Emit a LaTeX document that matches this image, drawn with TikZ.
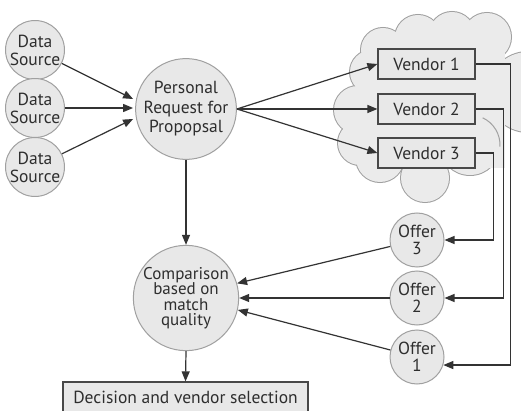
\documentclass[tikz,border=0pt]{standalone}
\usepackage{fontspec}
\setmainfont{PT Sans}
\usetikzlibrary{arrows.meta,calc}
\definecolor{nodefill}{HTML}{E8E8E8}
\definecolor{cloudfill}{HTML}{EBEBEB}
\definecolor{nodeline}{HTML}{A0A0A0}
\definecolor{boxline}{HTML}{484848}
\definecolor{conline}{HTML}{333333}
\definecolor{txt}{HTML}{2E2E2E}
\tikzset{
  every node/.style={text=txt, font=\fontsize{17.5}{18}\selectfont, inner sep=0pt},
  roundnode/.style={circle, draw=nodeline, fill=nodefill, line width=1pt, align=center},
  boxnode/.style={rectangle, draw=boxline, fill=nodefill, line width=1.2pt, minimum height=30pt},
  conn/.style={draw=conline, line width=1.2pt},
  arr/.style={conn, -{Triangle[length=10pt,width=8pt]}},
  cloudedge/.style={draw=nodeline, line width=2pt},
}
\begin{document}
\begin{tikzpicture}[x=1pt,y=-1pt]
\useasboundingbox (0,0) rectangle (521,411);
\fill[white] (0,0) rectangle (521,411);
% cloud
\begin{scope}
\clip (0,0) rectangle (521,411);
\foreach \cx/\cy/\r in {383/50/22, 418/38/23, 452/35/23, 487/37/24, 528/92/40, 470/145/30, 425/178/24, 380/158/24, 360/143/22, 358/110/24, 372/72/22}{
  \draw[cloudedge] (\cx,\cy) circle (\r);
}
\foreach \cx/\cy/\r in {383/50/22, 418/38/23, 452/35/23, 487/37/24, 528/92/40, 470/145/30, 425/178/24, 380/158/24, 360/143/22, 358/110/24, 372/72/22}{
  \fill[cloudfill] (\cx,\cy) circle (\r);
}
\fill[cloudfill] (370,45) rectangle (505,168);
\draw[draw=nodeline, line width=1pt] (470,145) ++(-65:30) arc (-65:3:30);
\end{scope}

% nodes
\node[roundnode, minimum size=56pt] (ds1) at (35,50) {Data\\Source};
\node[roundnode, minimum size=56pt] (ds2) at (35,108) {Data\\Source};
\node[roundnode, minimum size=56pt] (ds3) at (35,167) {Data\\Source};
\node[roundnode, minimum size=88pt, font=\fontsize{17.5}{19.5}\selectfont] (prp) at (186,109) {Personal\\Request for\\Propopsal};
\node[boxnode, minimum width=97pt] (v1) at (426.5,64) {Vendor 1};
\node[boxnode, minimum width=97pt] (v2) at (426.5,109) {Vendor 2};
\node[boxnode, minimum width=97pt] (v3) at (426.5,153) {Vendor 3};
\node[roundnode, minimum size=54pt, font=\fontsize{17.5}{17}\selectfont] (o3) at (417,240) {Offer\\3};
\node[roundnode, minimum size=54pt, font=\fontsize{17.5}{17}\selectfont] (o2) at (417,298) {Offer\\2};
\node[roundnode, minimum size=54pt, font=\fontsize{17.5}{17}\selectfont] (o1) at (417,357) {Offer\\1};
\node[roundnode, minimum size=90pt, font=\fontsize{17}{15.5}\selectfont] (cmp) at (186,298) {Comparison\\based on\\match\\quality};
\node[boxnode, minimum width=245pt] (dec) at (185.5,397) {Decision and vendor selection};

% connectors
\draw[arr] (ds1) -- ([yshift=10pt,xshift=-2pt]prp.west);
\draw[arr] (ds2) -- ([yshift=1pt,xshift=-2pt]prp.west);
\draw[arr] (ds3) -- ([yshift=-10pt,xshift=-2pt]prp.west);
\draw[arr] (prp.east) -- (v1.west);
\draw[arr] (prp.east) -- (v2.west);
\draw[arr] (prp.east) -- (v3.west);
\draw[arr] (prp.south) -- (cmp.north);
\draw[arr] (v1.east) -- ++(35,0) |- (o1.-17);
\draw[arr] (v2.east) -- ++(28,0) |- (o2.east);
\draw[arr] (v3.east) -- ++(18,0) |- (o3.east);
\draw[arr] (o3) -- (cmp.16);
\draw[arr] (o2) -- (cmp.east);
\draw[arr] (o1) -- (cmp.-13);
\draw[arr] (cmp.south) -- (dec.north);
\end{tikzpicture}
\end{document}
